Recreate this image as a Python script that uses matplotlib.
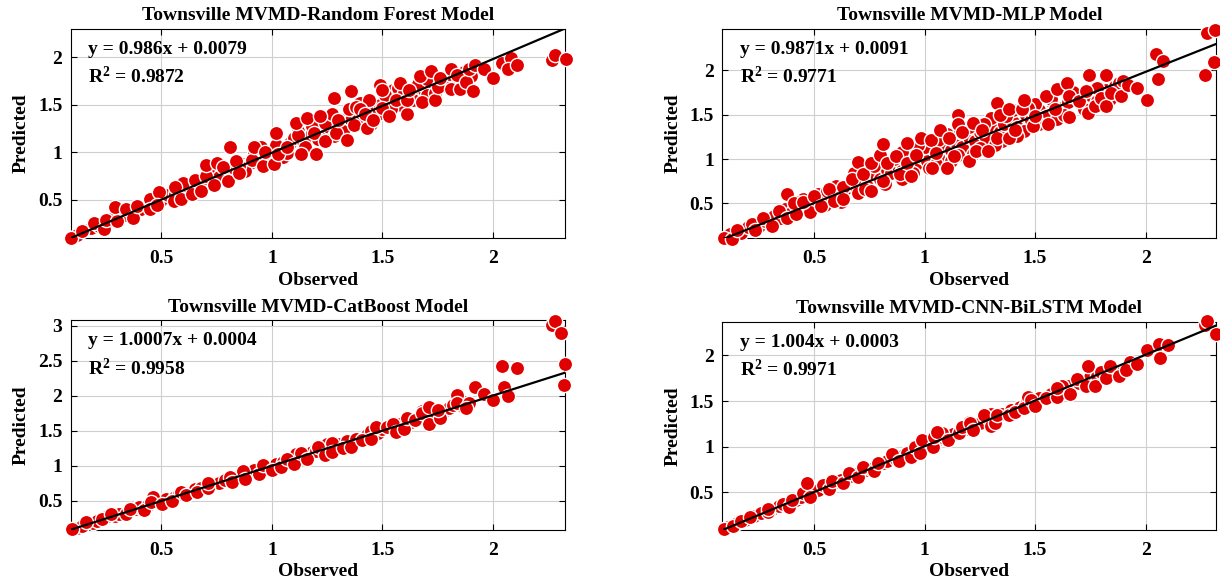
"""
Observed vs predicted scatter plots for the four Townsville MVMD models.
"""

import numpy as np
from matplotlib import pyplot as plt
from matplotlib.ticker import FuncFormatter, MultipleLocator

plt.rcParams["font.family"] = ["Liberation Serif", "DejaVu Serif"]
plt.rcParams["font.weight"] = "bold"
plt.rcParams["mathtext.fontset"] = "custom"
plt.rcParams["mathtext.rm"] = "Liberation Serif:bold"
plt.rcParams["mathtext.it"] = "Liberation Serif:bold"
plt.rcParams["mathtext.bf"] = "Liberation Serif:bold"

titles = [
    "Townsville MVMD-Random Forest Model",
    "Townsville MVMD-MLP Model",
    "Townsville MVMD-CatBoost Model",
    "Townsville MVMD-CNN-BiLSTM Model",
]
slopes = [0.986, 0.9871, 1.0007, 1.004]
intercepts = [0.0079, 0.0091, 0.0004, 0.0003]
equations = [
    "y = 0.986x + 0.0079",
    "y = 0.9871x + 0.0091",
    "y = 1.0007x + 0.0004",
    "y = 1.004x + 0.0003",
]
r2_labels = ["0.9872", "0.9771", "0.9958", "0.9971"]

# (observed, predicted) pairs: points along the band,
# then the ones on the edge of the cloud
rf_band = [
    (0.12, 0.13), (0.18, 0.20), (0.22, 0.22), (0.27, 0.30), (0.32, 0.33), (0.36, 0.36),
    (0.41, 0.40), (0.44, 0.46), (0.50, 0.50), (0.53, 0.55), (0.58, 0.58), (0.62, 0.64),
    (0.66, 0.66), (0.71, 0.70), (0.74, 0.76), (0.78, 0.78), (0.83, 0.83), (0.87, 0.88),
    (0.90, 0.89), (0.94, 0.95), (0.98, 0.97), (1.00, 1.02), (1.05, 1.04), (1.08, 1.10),
    (1.10, 1.15), (1.14, 1.12), (1.17, 1.18), (1.20, 1.22), (1.23, 1.25), (1.26, 1.27),
    (1.30, 1.28), (1.33, 1.35), (1.36, 1.34), (1.39, 1.40), (1.43, 1.42), (1.46, 1.47),
    (1.49, 1.50), (1.52, 1.53), (1.55, 1.52), (1.58, 1.58), (1.62, 1.60), (1.65, 1.64),
    (1.69, 1.66), (1.72, 1.72), (1.76, 1.72), (1.79, 1.78), (1.83, 1.76), (1.87, 1.84),
    (1.12, 1.22), (1.25, 1.35), (1.40, 1.52), (1.55, 1.65), (0.95, 1.05), (0.60, 0.68),
    (1.15, 1.06), (1.28, 1.17), (1.45, 1.30), (0.88, 0.80), (1.05, 0.95), (1.60, 1.48),
    (1.70, 1.60), (0.25, 0.25), (0.34, 0.34), (0.47, 0.48), (0.56, 0.56), (0.68, 0.70),
    (0.76, 0.74), (0.85, 0.86), (0.92, 0.98), (0.96, 0.92), (1.02, 1.08), (1.07, 0.99),
    (1.12, 1.18), (1.18, 1.28), (1.21, 1.14), (1.24, 1.31), (1.27, 1.40), (1.32, 1.22),
    (1.35, 1.45), (1.38, 1.48), (1.41, 1.36), (1.44, 1.55), (1.48, 1.40), (1.51, 1.60),
    (1.54, 1.45), (1.57, 1.68), (1.60, 1.62), (1.64, 1.55), (1.66, 1.72), (1.70, 1.77),
    (1.74, 1.62), (1.78, 1.70), (1.80, 1.82), (1.85, 1.74), (1.90, 1.80),
]
rf_edge = [
    (0.09, 0.10), (0.14, 0.17), (0.196, 0.25), (0.24, 0.19), (0.25, 0.29), (0.30, 0.28),
    (0.29, 0.42), (0.34, 0.40), (0.37, 0.31), (0.39, 0.43), (0.45, 0.51), (0.45, 0.40),
    (0.49, 0.58), (0.48, 0.44), (0.555, 0.49), (0.56, 0.63), (0.59, 0.51), (0.64, 0.56),
    (0.65, 0.71), (0.68, 0.59), (0.70, 0.75), (0.74, 0.66), (0.70, 0.87), (0.75, 0.89),
    (0.80, 0.70), (0.78, 0.84), (0.81, 1.06), (0.84, 0.91), (0.85, 0.78), (0.91, 0.92),
    (0.92, 1.06), (0.96, 0.86), (0.97, 1.00), (1.01, 0.88), (1.03, 0.98), (1.02, 1.20),
    (1.07, 1.05), (1.11, 1.31), (1.13, 0.98), (1.16, 1.36), (1.20, 0.98), (1.19, 1.20),
    (1.24, 1.12), (1.22, 1.38), (1.28, 1.57), (1.29, 1.20), (1.30, 1.34), (1.34, 1.13),
    (1.36, 1.64), (1.37, 1.29), (1.40, 1.45), (1.43, 1.26), (1.42, 1.40), (1.46, 1.34),
    (1.49, 1.71), (1.50, 1.66), (1.50, 1.47), (1.53, 1.38), (1.56, 1.55), (1.58, 1.73),
    (1.61, 1.40), (1.61, 1.55), (1.62, 1.65), (1.67, 1.80), (1.68, 1.53), (1.72, 1.85),
    (1.74, 1.55), (1.75, 1.69), (1.76, 1.78), (1.81, 1.67), (1.81, 1.88), (1.85, 1.67),
    (1.84, 1.81), (1.88, 1.74), (1.89, 1.88), (1.91, 1.64), (1.92, 1.92), (1.96, 1.88),
    (2.00, 1.78), (2.04, 1.94), (2.08, 1.99), (2.07, 1.88), (2.11, 1.92), (2.27, 1.97),
    (2.28, 2.02), (2.33, 1.98),
]

mlp_band = [
    (0.12, 0.15), (0.17, 0.16), (0.20, 0.23), (0.25, 0.24), (0.28, 0.30), (0.32, 0.36),
    (0.35, 0.33), (0.37, 0.44), (0.40, 0.40), (0.44, 0.46), (0.47, 0.44), (0.50, 0.52),
    (0.52, 0.60), (0.55, 0.55), (0.58, 0.62), (0.61, 0.60), (0.64, 0.66), (0.66, 0.72),
    (0.69, 0.68), (0.72, 0.74), (0.74, 0.70), (0.78, 0.82), (0.80, 0.78), (0.83, 0.88),
    (0.85, 0.84), (0.88, 0.92), (0.90, 0.88), (0.93, 1.00), (0.96, 0.94), (0.99, 1.02),
    (1.01, 0.98), (1.04, 1.12), (1.06, 1.02), (1.09, 1.15), (1.12, 1.10), (1.14, 1.20),
    (1.17, 1.14), (1.20, 1.25), (1.23, 1.20), (1.25, 1.30), (1.28, 1.24), (1.31, 1.36),
    (1.34, 1.30), (1.36, 1.40), (1.40, 1.42), (1.42, 1.36), (1.46, 1.50), (1.48, 1.44),
    (1.52, 1.55), (1.55, 1.48), (1.58, 1.62), (1.62, 1.58), (1.65, 1.64), (1.68, 1.70),
    (1.71, 1.62), (1.75, 1.72), (1.78, 1.66), (1.82, 1.78), (1.86, 1.82), (0.90, 1.08),
    (1.00, 1.14), (1.10, 1.28), (1.20, 1.36), (1.30, 1.46), (1.40, 1.55), (1.50, 1.62),
    (0.95, 0.84), (1.05, 0.94), (1.15, 1.04), (1.25, 1.12), (1.35, 1.20), (1.45, 1.32),
    (1.60, 1.45), (0.60, 0.70), (0.70, 0.62), (0.45, 0.55), (0.55, 0.48),
    (0.42, 0.52), (0.48, 0.40), (0.56, 0.64), (0.62, 0.52), (0.68, 0.84), (0.73, 0.66),
    (0.77, 0.92), (0.82, 0.72), (0.86, 1.00), (0.90, 0.78), (0.97, 1.16), (1.02, 0.90),
    (1.06, 1.22), (1.12, 0.98), (1.16, 1.30), (1.22, 1.06), (1.27, 1.40), (1.32, 1.16),
    (1.37, 1.48), (1.42, 1.26), (1.47, 1.58), (1.52, 1.40), (1.57, 1.68), (1.63, 1.50),
    (1.67, 1.76), (1.72, 1.56), (1.78, 1.80), (1.84, 1.68), (1.88, 1.86),
]
mlp_edge = [
    (0.095, 0.11), (0.13, 0.10), (0.15, 0.20), (0.22, 0.27), (0.235, 0.20), (0.27, 0.34),
    (0.31, 0.25), (0.34, 0.41), (0.38, 0.34), (0.38, 0.60), (0.42, 0.38), (0.41, 0.50),
    (0.45, 0.51), (0.50, 0.58), (0.53, 0.47), (0.57, 0.66), (0.59, 0.53), (0.63, 0.69),
    (0.63, 0.55), (0.67, 0.77), (0.70, 0.97), (0.72, 0.83), (0.76, 0.64), (0.76, 0.96),
    (0.80, 1.05), (0.81, 1.17), (0.81, 0.75), (0.83, 0.96), (0.87, 1.03), (0.89, 0.83),
    (0.92, 1.18), (0.92, 0.96), (0.94, 0.81), (0.96, 1.05), (0.985, 1.24), (1.03, 1.22),
    (1.035, 0.90), (1.05, 1.07), (1.07, 1.33), (1.10, 0.90), (1.11, 1.24), (1.135, 1.03),
    (1.15, 1.50), (1.15, 1.39), (1.17, 1.30), (1.20, 0.98), (1.22, 1.41), (1.235, 1.09),
    (1.26, 1.33), (1.285, 1.09), (1.33, 1.63), (1.33, 1.24), (1.34, 1.50), (1.38, 1.56),
    (1.38, 1.24), (1.41, 1.33), (1.44, 1.56), (1.45, 1.67), (1.49, 1.37), (1.50, 1.48),
    (1.55, 1.71), (1.56, 1.39), (1.59, 1.56), (1.60, 1.79), (1.645, 1.86), (1.655, 1.47),
    (1.655, 1.71), (1.70, 1.65), (1.74, 1.52), (1.745, 1.95), (1.73, 1.77), (1.77, 1.60),
    (1.80, 1.69), (1.82, 1.95), (1.82, 1.60), (1.845, 1.75), (1.89, 1.71), (1.90, 1.88),
    (1.92, 1.84), (1.96, 1.80), (2.005, 1.67), (2.045, 2.18), (2.055, 1.90), (2.08, 2.11),
    (2.27, 1.95), (2.28, 2.42), (2.315, 2.45), (2.31, 2.10),
]

cat_band = [
    (0.12, 0.12), (0.14, 0.15), (0.19, 0.19), (0.21, 0.22), (0.25, 0.27), (0.29, 0.28),
    (0.31, 0.32), (0.38, 0.38), (0.40, 0.41), (0.44, 0.44), (0.48, 0.50), (0.52, 0.53),
    (0.56, 0.56), (0.58, 0.60), (0.63, 0.62), (0.65, 0.67), (0.68, 0.68), (0.73, 0.74),
    (0.76, 0.76), (0.79, 0.80), (0.84, 0.84), (0.86, 0.88), (0.90, 0.90), (0.92, 0.94),
    (0.97, 0.97), (1.02, 1.03), (1.05, 1.06), (1.08, 1.09), (1.12, 1.12), (1.15, 1.16),
    (1.18, 1.20), (1.20, 1.21), (1.23, 1.24), (1.26, 1.26), (1.30, 1.31), (1.34, 1.35),
    (1.38, 1.38), (1.43, 1.44), (1.48, 1.47), (1.50, 1.52), (1.54, 1.54), (1.58, 1.59),
    (1.63, 1.63), (1.66, 1.68), (1.70, 1.71), (1.73, 1.73), (1.78, 1.78), (1.80, 1.82),
    (1.86, 1.85), (0.87, 0.93), (1.11, 1.17), (1.25, 1.31), (1.45, 1.50), (1.68, 1.78),
    (1.86, 1.92),
]
cat_edge = [
    (0.095, 0.105), (0.16, 0.20), (0.23, 0.25), (0.27, 0.31), (0.34, 0.31), (0.36, 0.39),
    (0.42, 0.37), (0.46, 0.56), (0.455, 0.49), (0.505, 0.46), (0.55, 0.50), (0.59, 0.63),
    (0.61, 0.58), (0.66, 0.63), (0.71, 0.68), (0.71, 0.76), (0.81, 0.84), (0.82, 0.77),
    (0.88, 0.82), (0.94, 0.89), (0.96, 1.01), (1.00, 0.94), (1.04, 0.99), (1.07, 1.10),
    (1.10, 1.03), (1.13, 1.18), (1.16, 1.10), (1.21, 1.27), (1.24, 1.15), (1.27, 1.32),
    (1.27, 1.20), (1.32, 1.25), (1.36, 1.27), (1.41, 1.37), (1.45, 1.39), (1.47, 1.56),
    (1.52, 1.56), (1.55, 1.60), (1.56, 1.49), (1.60, 1.53), (1.61, 1.68), (1.65, 1.65),
    (1.68, 1.75), (1.71, 1.60), (1.71, 1.84), (1.76, 1.68), (1.75, 1.79), (1.82, 1.87),
    (1.84, 2.01), (1.84, 1.89), (1.89, 1.89), (1.88, 1.82), (1.92, 2.13), (1.96, 2.03),
    (2.00, 1.94), (2.04, 2.42), (2.05, 2.13), (2.07, 1.99), (2.11, 2.40), (2.27, 3.01),
    (2.28, 3.07), (2.31, 2.90), (2.325, 2.45), (2.32, 2.15),
]

cnn_band = [
    (0.11, 0.12), (0.15, 0.16), (0.19, 0.20), (0.23, 0.24), (0.26, 0.27), (0.31, 0.32),
    (0.34, 0.35), (0.36, 0.37), (0.42, 0.42), (0.44, 0.45), (0.50, 0.50), (0.52, 0.53),
    (0.56, 0.56), (0.60, 0.61), (0.62, 0.63), (0.67, 0.68), (0.69, 0.70), (0.74, 0.75),
    (0.76, 0.76), (0.81, 0.82), (0.83, 0.84), (0.87, 0.87), (0.90, 0.90), (0.92, 0.93),
    (0.97, 0.98), (1.01, 1.02), (1.03, 1.04), (1.07, 1.08), (1.09, 1.10), (1.13, 1.14),
    (1.16, 1.17), (1.19, 1.19), (1.23, 1.24), (1.25, 1.26), (1.29, 1.30), (1.35, 1.36),
    (1.39, 1.40), (1.43, 1.44), (1.46, 1.47), (1.52, 1.53), (1.57, 1.58), (1.62, 1.63),
    (1.65, 1.66), (1.70, 1.70), (1.75, 1.76), (1.78, 1.78), (1.85, 1.85), (1.93, 1.93),
    (1.47, 1.55), (1.62, 1.66), (1.30, 1.36), (1.20, 1.27), (1.08, 1.15),
]
cnn_edge = [
    (0.094, 0.095), (0.135, 0.13), (0.17, 0.19), (0.21, 0.23), (0.29, 0.28), (0.29, 0.32),
    (0.385, 0.34), (0.40, 0.42), (0.45, 0.49), (0.47, 0.60), (0.48, 0.45), (0.54, 0.58),
    (0.57, 0.54), (0.58, 0.62), (0.63, 0.60), (0.66, 0.71), (0.70, 0.67), (0.72, 0.78),
    (0.77, 0.73), (0.79, 0.82), (0.855, 0.92), (0.885, 0.84), (0.94, 0.89), (0.955, 1.00),
    (0.98, 0.93), (0.99, 1.07), (1.04, 1.00), (1.045, 1.11), (1.055, 1.16), (1.105, 1.07),
    (1.155, 1.15), (1.17, 1.22), (1.205, 1.26), (1.22, 1.18), (1.27, 1.35), (1.30, 1.23),
    (1.32, 1.26), (1.33, 1.35), (1.38, 1.35), (1.41, 1.38), (1.45, 1.42), (1.48, 1.51),
    (1.50, 1.45), (1.55, 1.53), (1.60, 1.55), (1.60, 1.64), (1.66, 1.58), (1.69, 1.74),
    (1.73, 1.66), (1.74, 1.88), (1.77, 1.66), (1.80, 1.82), (1.82, 1.75), (1.84, 1.88),
    (1.88, 1.77), (1.91, 1.84), (1.96, 1.91), (2.005, 2.06), (2.06, 2.13), (2.065, 1.97),
    (2.10, 2.11), (2.27, 2.33), (2.28, 2.38), (2.32, 2.24),
]

points = [rf_band + rf_edge, mlp_band + mlp_edge, cat_band + cat_edge, cnn_band + cnn_edge]
xlims = [(0.09, 2.326), (0.085, 2.32), (0.09, 2.326), (0.085, 2.32)]
ylims = [(0.098, 2.30), (0.11, 2.47), (0.09, 3.08), (0.09, 2.37)]

fig = plt.figure(figsize=(12.2, 5.86), dpi=100)
positions = [
    [0.058, 0.594, 0.405, 0.357],
    [0.592, 0.594, 0.405, 0.357],
    [0.058, 0.096, 0.405, 0.358],
    [0.592, 0.096, 0.405, 0.355],
]

fmt = FuncFormatter(lambda v, _: f"{v:g}")

for i in range(4):
    ax = fig.add_axes(positions[i])
    obs, pred = np.array(points[i]).T
    ax.scatter(obs, pred, s=105, c="#e00000", edgecolors="white", linewidths=1.0,
               zorder=3, clip_on=False)

    line_x = np.array([obs.min(), obs.max()])
    ax.plot(line_x, slopes[i] * line_x + intercepts[i], color="black", lw=1.6, zorder=4)

    ax.set_xlim(*xlims[i])
    ax.set_ylim(*ylims[i])
    ax.xaxis.set_major_locator(MultipleLocator(0.5))
    ax.yaxis.set_major_locator(MultipleLocator(0.5))
    ax.xaxis.set_major_formatter(fmt)
    ax.yaxis.set_major_formatter(fmt)
    ax.grid(True, color="#cfcfcf", lw=0.8, zorder=0)
    ax.set_axisbelow(True)
    ax.tick_params(direction="in", top=True, right=True, length=4, width=0.8,
                   labelsize=14)
    ax.tick_params(axis="x", pad=9)
    ax.tick_params(axis="y", pad=6)
    for spine in ax.spines.values():
        spine.set_linewidth(0.8)

    ax.set_title(titles[i], fontsize=14, fontweight="bold", pad=6)
    ax.set_xlabel("Observed", fontsize=14, fontweight="bold", labelpad=3)
    ax.set_ylabel("Predicted", fontsize=14, fontweight="bold", labelpad=6)

    ax.text(0.035, 0.90, equations[i], transform=ax.transAxes, fontsize=14,
            fontweight="bold", va="center", ha="left", zorder=5)
    ax.text(0.035, 0.77, "R$^{2}$ = " + r2_labels[i], transform=ax.transAxes,
            fontsize=14, fontweight="bold", va="center", ha="left", zorder=5)

plt.savefig("out.png", dpi=100)
